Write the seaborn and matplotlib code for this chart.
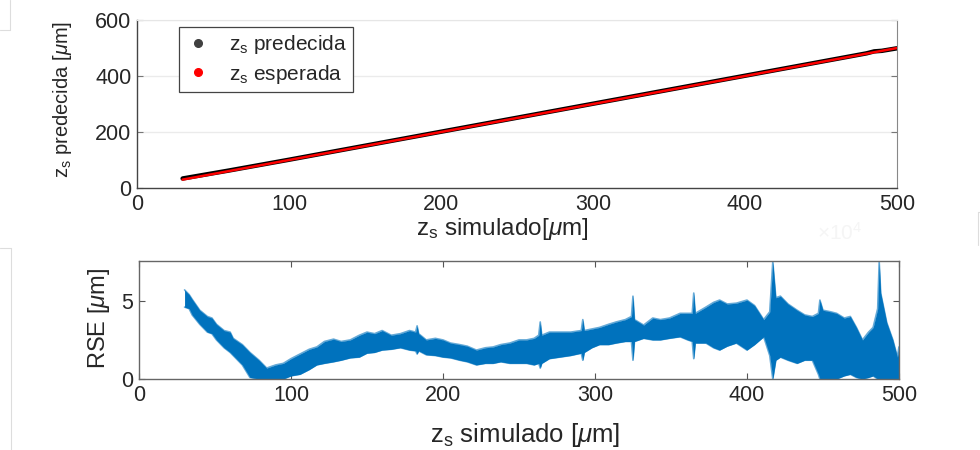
import numpy as np
import pandas as pd
import matplotlib
matplotlib.use("Agg")
import matplotlib.pyplot as plt
import seaborn as sns
from matplotlib.lines import Line2D

# ---------------- data ----------------
sim_z = [30, 60, 100, 150, 200, 250, 300, 350, 400, 450, 480, 485, 490, 500]
pred_z = [34, 62, 101, 151, 201, 251, 301, 351, 401, 451, 481, 488, 490, 499]
exp_z = [30, 60, 100, 150, 200, 250, 300, 350, 400, 450, 480, 485, 490, 500]

rse_x = [30, 33, 35, 40, 45, 48, 51, 56, 60, 62, 68, 73, 79, 84, 90, 95, 100, 106, 112, 117,
         122, 128, 133, 139, 145, 150, 155, 160, 166, 172, 178, 182, 183, 184, 189, 195, 200,
         205, 211, 216, 222, 228, 233, 238, 244, 250, 255, 260, 263, 264, 265, 270, 277, 284,
         291, 292, 293, 298, 303, 309, 314, 320, 324, 325, 326, 332, 338, 343, 349, 356, 361,
         364, 365, 366, 373, 378, 382, 387, 393, 400, 405, 411, 415, 417, 419, 422, 427, 433,
         438, 443, 447, 448, 450, 455, 459, 464, 468, 472, 476, 480, 483, 486, 487, 488, 492,
         496, 499, 500]
rse_hi = [5.7, 5.4, 5.1, 4.4, 4.0, 3.9, 3.5, 3.1, 3.0, 2.6, 2.2, 1.7, 1.2, 0.7, 0.9, 1.0, 1.3,
          1.6, 1.9, 2.05, 2.4, 2.55, 2.4, 2.5, 2.8, 3.0, 2.9, 3.1, 2.8, 2.9, 3.1, 3.0, 3.4, 2.9,
          2.5, 2.6, 2.5, 2.3, 2.2, 2.1, 1.85, 2.0, 2.05, 2.2, 2.3, 2.5, 2.5, 2.6, 2.8, 3.65, 2.8,
          3.0, 3.0, 3.0, 3.1, 3.8, 3.1, 3.2, 3.3, 3.5, 3.65, 3.8, 4.0, 5.3, 3.8, 3.45, 3.9, 3.8,
          3.9, 4.2, 4.2, 4.2, 5.5, 4.2, 4.6, 4.9, 5.05, 4.8, 4.85, 5.05, 4.7, 3.8, 4.3, 7.5, 5.2,
          5.3, 4.8, 4.4, 4.1, 4.0, 4.2, 5.05, 4.4, 4.3, 4.2, 3.9, 4.0, 3.3, 2.5, 3.0, 3.3, 4.5,
          7.5, 5.5, 3.6, 2.5, 1.4, 2.05]
rse_lo = [4.6, 4.5, 4.1, 3.5, 3.0, 2.9, 2.5, 2.0, 1.7, 1.5, 0.9, 0.1, 0.0, 0.0, 0.0, 0.0, 0.2,
          0.3, 0.6, 0.9, 1.0, 1.1, 1.2, 1.35, 1.4, 1.65, 1.7, 1.85, 1.9, 2.0, 1.85, 1.8, 1.6, 1.8,
          1.55, 1.5, 1.4, 1.35, 1.2, 1.1, 0.9, 1.0, 1.0, 1.1, 1.0, 1.0, 1.0, 0.9, 1.0, 0.7, 1.0,
          1.3, 1.4, 1.5, 1.65, 1.2, 1.7, 2.0, 2.2, 2.2, 2.3, 2.4, 2.4, 1.2, 2.4, 2.6, 2.5, 2.5,
          2.6, 2.7, 2.5, 2.4, 1.3, 2.3, 2.3, 2.0, 1.85, 2.1, 2.3, 1.85, 2.2, 2.7, 1.5, 0.0, 1.2,
          1.4, 1.2, 1.0, 1.2, 1.2, 0.3, 0.0, 0.0, 0.0, 0.0, 0.2, 0.3, 0.1, 0.0, 0.1, 0.2, 0.0,
          0.0, 0.0, 0.0, 0.0, 0.0, 0.0]

top_yticks = [0, 200, 400, 600]
x_ticks = [0, 100, 200, 300, 400, 500]
bot_yticks = [0, 5]

# ---------------- style ----------------
sns.set_style("white")
plt.rcParams["font.family"] = ["Liberation Sans", "DejaVu Sans"]
plt.rcParams["mathtext.fontset"] = "custom"
plt.rcParams["mathtext.rm"] = "Liberation Sans"
plt.rcParams["mathtext.it"] = "Liberation Sans:italic"
plt.rcParams["xtick.direction"] = "in"
plt.rcParams["ytick.direction"] = "in"

txt = "#262626"
blue = "#0072BD"

fig = plt.figure(figsize=(9.8, 4.5), dpi=100)
ax1 = fig.add_axes([0.1398, 0.5822, 0.7755, 0.3733])
ax2 = fig.add_axes([0.1418, 0.1578, 0.7755, 0.2622])

# ---- top panel ----
df_top = pd.DataFrame({"sim": sim_z, "pred": pred_z, "exp": exp_z})
for y in top_yticks[1:]:
    ax1.axhline(y, color="#ebebeb", lw=1.0, zorder=0)
sns.lineplot(data=df_top, x="sim", y="pred", ax=ax1, color="black", lw=3.2, zorder=2)
sns.lineplot(data=df_top, x="sim", y="exp", ax=ax1, color="#ff0000", lw=1.8, zorder=3)
ax1.set_xlim(0, 500)
ax1.set_ylim(0, 600)
ax1.set_xticks(x_ticks)
ax1.set_yticks(top_yticks)
ax1.tick_params(axis="both", labelsize=15.5, colors=txt, length=4, width=0.8,
                left=True, right=True, bottom=False, top=False, pad=4)
ax1.tick_params(axis="y", colors="#777777", labelcolor=txt)
for s in ["left", "bottom"]:
    ax1.spines[s].set_color("#444444")
    ax1.spines[s].set_linewidth(1.0)
ax1.spines["right"].set_color("#888888")
ax1.spines["top"].set_color("#e6e6e6")
ax1.set_xlabel("z$_\\mathregular{s}$ simulado[$\\mu$m]", fontsize=17.5, color=txt)
ax1.set_ylabel("z$_\\mathregular{s}$ predecida [$\\mu$m]", fontsize=14.5, color=txt)
ax1.xaxis.set_label_coords(0.48, -0.165)
ax1.yaxis.set_label_coords(-0.083, 0.53)

handles = [
    Line2D([], [], ls="none", marker="o", ms=5.5, color="#404040", label="z$_\\mathregular{s}$ predecida"),
    Line2D([], [], ls="none", marker="o", ms=5.5, color="#ff0000", label="z$_\\mathregular{s}$ esperada"),
]
leg = ax1.legend(handles=handles, loc="upper left", bbox_to_anchor=(0.055, 0.958),
                 borderaxespad=0, fontsize=15, frameon=True, fancybox=False,
                 edgecolor="#444444", framealpha=1, handlelength=1.2, handletextpad=0.9,
                 borderpad=0.3, labelspacing=0.3)
leg.get_frame().set_linewidth(0.9)
for t in leg.get_texts():
    t.set_color(txt)

# ---- bottom panel ----
df_rse = pd.DataFrame({"x": rse_x, "hi": rse_hi, "lo": rse_lo})
ax2.fill_between(df_rse["x"], df_rse["lo"], df_rse["hi"], color=blue, lw=0, zorder=2)
sns.lineplot(data=df_rse, x="x", y="hi", ax=ax2, color=blue, lw=1.2, alpha=0.6, zorder=2)
sns.lineplot(data=df_rse, x="x", y="lo", ax=ax2, color=blue, lw=1.2, alpha=0.6, zorder=2)
ax2.set_xlim(0, 500)
ax2.set_ylim(0, 7.55)
ax2.set_xticks(x_ticks)
ax2.set_yticks(bot_yticks)
ax2.tick_params(axis="both", labelsize=15.5, colors="#555555", labelcolor=txt, length=4,
                width=0.8, left=True, right=True, bottom=True, top=True, pad=4)
for s in ax2.spines.values():
    s.set_color("#666666")
    s.set_linewidth(1.0)
ax2.set_xlabel("z$_\\mathregular{s}$ simulado [$\\mu$m]", fontsize=18.5, color=txt)
ax2.set_ylabel("RSE [$\\mu$m]", fontsize=17, color=txt)
ax2.xaxis.set_label_coords(0.508, -0.36)
ax2.yaxis.set_label_coords(-0.036, 0.515)

# faint screenshot remnants
fig.text(0.857, 0.483, "$\\times$10$^4$", fontsize=15, color="#f5f5f5", ha="center", va="center")
for (xs, ys) in [([0, 10], [420, 420]), ([10, 10], [420, 450]),
                 ([0, 11], [202, 202]), ([11, 11], [0, 202]),
                 ([978, 978], [205, 238]), ([978, 980], [238, 238])]:
    fig.add_artist(Line2D([v / 980 for v in xs], [v / 450 for v in ys], color="#dddddd", lw=0.8))

fig.savefig("out.png", dpi=100, facecolor="white")
